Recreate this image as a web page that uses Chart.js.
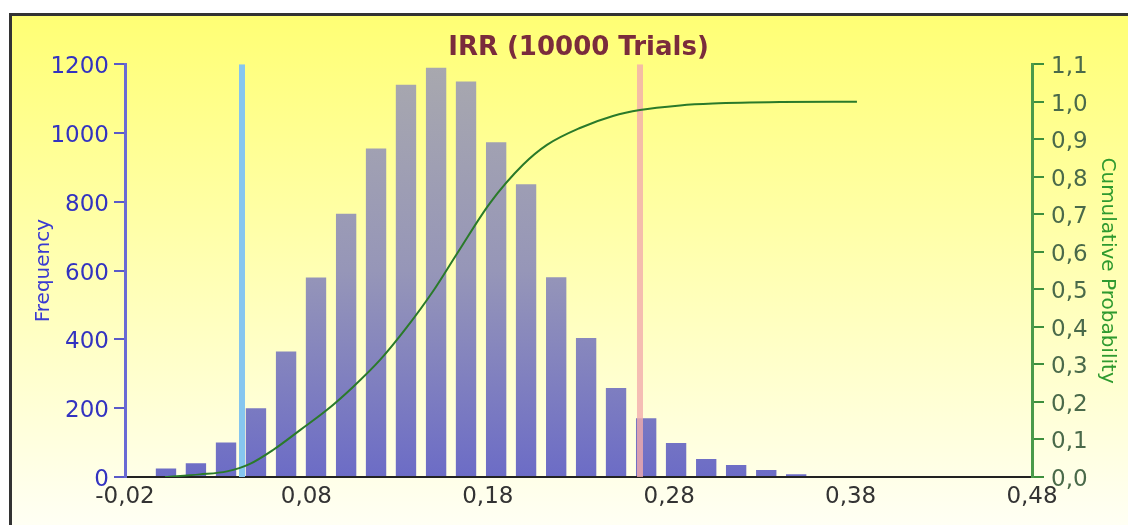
<!DOCTYPE html>
<html>
<head>
<meta charset="utf-8">
<title>IRR (10000 Trials)</title>
<script src="https://cdn.jsdelivr.net/npm/chart.js@4.4.1/dist/chart.umd.min.js"></script>
<style>
    html, body { margin: 0; padding: 0; background: #fff; }
    #wrap { position: relative; width: 1128px; height: 525px; }
</style>
</head>
<body>
<div id="wrap"><canvas id="irrChart"></canvas></div>
<script>
// histogram: bin centres and counts
const binCenters = [0.0026, 0.0191, 0.0357, 0.0522, 0.0688, 0.0853, 0.1019, 0.1184, 0.1349, 0.1515, 0.1680,
                    0.1846, 0.2011, 0.2177, 0.2342, 0.2507, 0.2673, 0.2838, 0.3004, 0.3169, 0.3335, 0.3500];
const frequencies = [25, 40, 100, 200, 365, 580, 765, 955, 1140, 1190, 1150,
                     973, 851, 581, 404, 259, 171, 99, 52, 35, 20, 8];

// cumulative probability curve
const cumX = [0.0021, 0.0213, 0.0362, 0.0489, 0.0616, 0.0765, 0.0914, 0.1057, 0.1206, 0.1355, 0.1498,
              0.1630, 0.1812, 0.1994, 0.2126, 0.2308, 0.2490, 0.2639, 0.2860, 0.3041, 0.3411, 0.3835];
const cumProb = [0, 0.007, 0.015, 0.035, 0.072, 0.125, 0.179, 0.240, 0.312, 0.400, 0.495,
                 0.595, 0.730, 0.832, 0.885, 0.930, 0.962, 0.978, 0.990, 0.995, 0.999, 1.0];

// marker lines
const lowerMark = 0.0445;
const upperMark = 0.2639;

// tick labels
const xTicks = [-0.02, 0.08, 0.18, 0.28, 0.38, 0.48];
const freqTicks = [0, 200, 400, 600, 800, 1000, 1200];
const probTicks = [0, 0.1, 0.2, 0.3, 0.4, 0.5, 0.6, 0.7, 0.8, 0.9, 1.0, 1.1];

const FONT = 'DejaVu Sans, Verdana, sans-serif';

// yellow panel with dark frame
const backdrop = {
    id: 'backdrop',
    beforeDraw(chart) {
        const ctx = chart.ctx;
        const w = chart.width, h = chart.height;
        ctx.save();
        ctx.fillStyle = '#fff';
        ctx.fillRect(0, 0, w, h);
        const g = ctx.createLinearGradient(0, 14, 0, h);
        g.addColorStop(0, '#ffff74');
        g.addColorStop(0.4, '#ffffa6');
        g.addColorStop(1, '#fffff4');
        ctx.fillStyle = g;
        ctx.fillRect(10, 14, w - 10, h - 14);
        ctx.strokeStyle = '#333';
        ctx.lineWidth = 3;
        ctx.beginPath();
        ctx.moveTo(10.5, h);
        ctx.lineTo(10.5, 14.5);
        ctx.lineTo(w, 14.5);
        ctx.stroke();
        ctx.restore();
    }
};

function barFill(context) {
    const area = context.chart.chartArea;
    if (!area) return '#8888b8';
    const g = context.chart.ctx.createLinearGradient(0, area.top, 0, area.bottom);
    g.addColorStop(0, '#a8a8ae');
    g.addColorStop(0.5, '#9696b8');
    g.addColorStop(1, '#6c6cc6');
    return g;
}

new Chart(document.getElementById('irrChart'), {
    type: 'bar',
    data: {
        datasets: [
            {
                type: 'line',
                label: 'Cumulative Probability',
                data: cumX.map((x, i) => ({ x: x, y: cumProb[i] })),
                yAxisID: 'yProb',
                borderColor: '#2a7a2a',
                borderWidth: 2,
                pointRadius: 0,
                cubicInterpolationMode: 'monotone',
                order: 0
            },
            {
                type: 'line',
                label: 'Upper',
                data: [{ x: upperMark, y: 0 }, { x: upperMark, y: 1200 }],
                yAxisID: 'yFreq',
                borderColor: 'rgba(242,172,172,0.8)',
                borderWidth: 6,
                pointRadius: 0,
                order: 1
            },
            {
                type: 'bar',
                label: 'Frequency',
                data: binCenters.map((x, i) => ({ x: x, y: frequencies[i] })),
                yAxisID: 'yFreq',
                backgroundColor: barFill,
                barPercentage: 0.68,
                categoryPercentage: 1,
                order: 2
            },
            {
                type: 'line',
                label: 'Lower',
                data: [{ x: lowerMark, y: 0 }, { x: lowerMark, y: 1200 }],
                yAxisID: 'yFreq',
                borderColor: '#86c6ef',
                borderWidth: 6,
                pointRadius: 0,
                order: 3
            }
        ]
    },
    options: {
        responsive: true,
        maintainAspectRatio: false,
        animation: false,
        layout: { padding: 0 },
        plugins: {
            legend: { display: false },
            tooltip: { enabled: false },
            title: {
                display: true,
                text: 'IRR (10000 Trials)',
                color: '#7a2c3c',
                font: { family: FONT, size: 26, weight: 'bold' },
                padding: { top: 33, bottom: 0 },
                fullSize: false
            }
        },
        scales: {
            x: {
                type: 'linear',
                min: -0.02,
                max: 0.48,
                offset: false,
                afterBuildTicks: s => { s.ticks = xTicks.map(v => ({ value: v })); },
                afterFit: s => { s.height = 48; },
                grid: { display: false, drawTicks: false },
                border: { display: true, color: '#222', width: 2 },
                ticks: {
                    color: '#333',
                    font: { family: FONT, size: 23 },
                    padding: 6,
                    maxRotation: 0,
                    autoSkip: false,
                    callback: v => v.toFixed(2).replace('.', ',')
                }
            },
            yFreq: {
                position: 'left',
                min: 0,
                max: 1200,
                afterBuildTicks: s => { s.ticks = freqTicks.map(v => ({ value: v })); },
                afterFit: s => { s.width = 125; },
                grid: { drawOnChartArea: false, drawTicks: true, tickLength: 11, color: '#5a5ac8', lineWidth: 2 },
                border: { color: '#6a6ad4', width: 3 },
                ticks: {
                    color: '#3333c0',
                    font: { family: FONT, size: 23 },
                    padding: 5,
                    labelOffset: 3,
                    autoSkip: false,
                    callback: v => String(v)
                },
                title: {
                    display: true,
                    text: 'Frequency',
                    color: '#3a3ad2',
                    font: { family: FONT, size: 20 },
                    padding: { top: 32, bottom: 0 }
                }
            },
            yProb: {
                position: 'right',
                min: 0,
                max: 1.1,
                afterBuildTicks: s => { s.ticks = probTicks.map(v => ({ value: v })); },
                afterFit: s => { s.width = 96; },
                grid: { drawOnChartArea: false, drawTicks: true, tickLength: 12, color: '#3d8f3d', lineWidth: 2 },
                border: { color: '#4a9a4a', width: 3 },
                ticks: {
                    color: '#4a6a4a',
                    font: { family: FONT, size: 23 },
                    padding: 7,
                    labelOffset: 3,
                    autoSkip: false,
                    callback: v => v.toFixed(1).replace('.', ',')
                },
                title: {
                    display: true,
                    text: 'Cumulative Probability',
                    color: '#2f9a2f',
                    font: { family: FONT, size: 20 },
                    padding: { top: 9, bottom: 0 }
                }
            }
        }
    },
    plugins: [backdrop]
});
</script>
</body>
</html>
